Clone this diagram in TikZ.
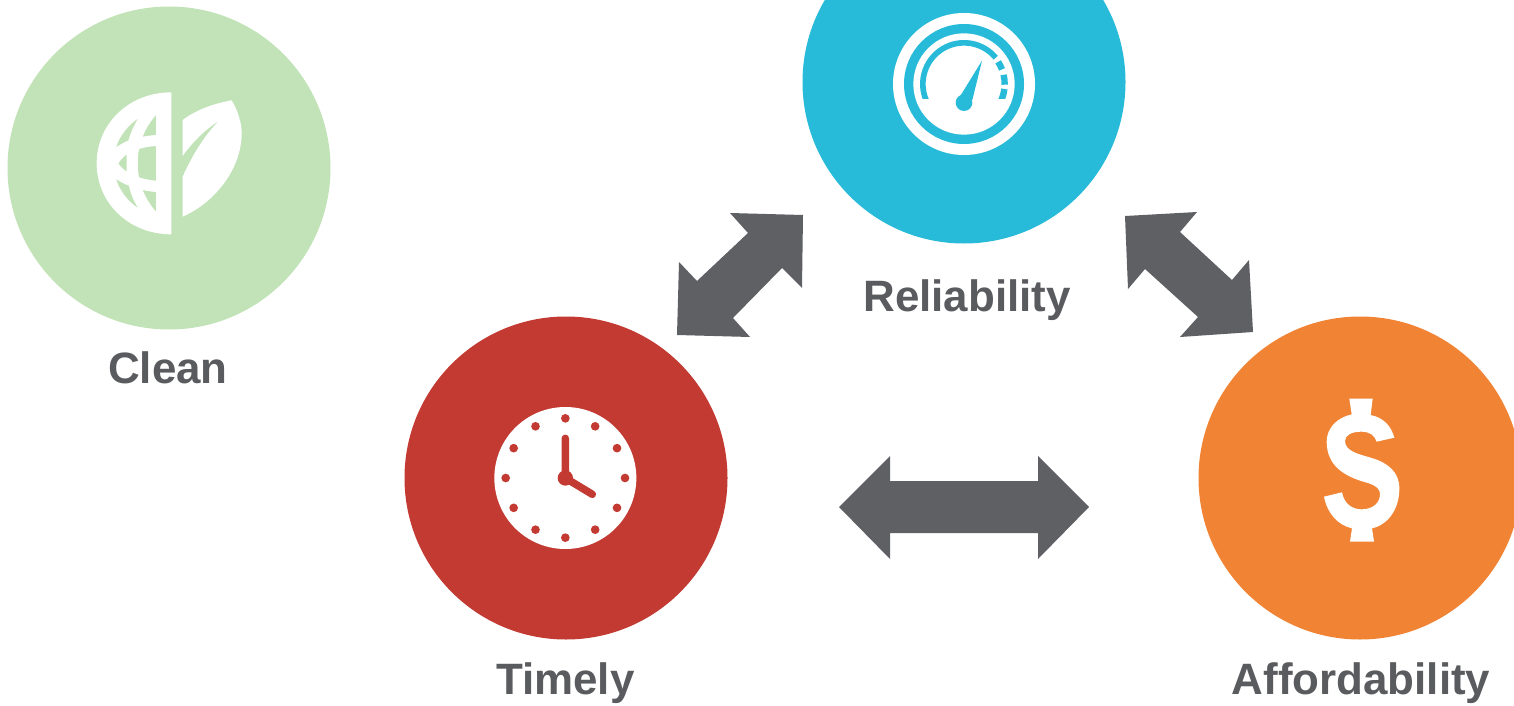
\documentclass[tikz,border=0pt]{standalone}
\usepackage{fontspec}
\setmainfont{Liberation Sans}
\definecolor{cgreen}{HTML}{C1E3B7}
\definecolor{ccyan}{HTML}{27BBD9}
\definecolor{cred}{HTML}{C23A32}
\definecolor{corange}{HTML}{F08434}
\definecolor{cgray}{HTML}{5F6064}
\definecolor{ctext}{HTML}{5A5B5E}
\tikzset{
  bigdisc/.style={circle,minimum size=323pt,inner sep=0pt,outer sep=0pt},
  lab/.style={anchor=base,text=ctext,font=\fontsize{43.9pt}{44pt}\selectfont\bfseries,inner sep=0pt},
  blockarrow/.style={fill=cgray,draw=none},
  icon/.style={shift={#1},x=0.33333pt,y=-0.33333pt},
  gaugearc/.style={ccyan,line width=5.67pt},
  gaugedash/.style={ccyan,line width=6.4pt},
  clockdot/.style={fill=cred}
}
\begin{document}
\begin{tikzpicture}[x=1pt,y=-1pt]
\clip (0,0) rectangle (1514,706);
\fill[white] (0,0) rectangle (1514,706);
% discs
\node[bigdisc,fill=cgreen] (clean) at (169,168) {};
\node[bigdisc,fill=ccyan] (reliability) at (964,82) {};
\node[bigdisc,fill=cred] (timely) at (566,478) {};
\node[bigdisc,fill=corange] (afford) at (1360,478) {};
% labels
\node[lab] (lclean) at (168,383) {Clean};
\node[lab] (lrel) at (967,311.5) {Reliability};
\node[lab] (ltime) at (565.3,694.5) {Timely};
\node[lab] (laff) at (1361,694.5) {Affordability};
% block arrows
\fill[blockarrow] (730,213)--(803,215)--(802,288)--(782,268)--(733,318)--(750,337)--(677,335)--(679,262)--(697,281)--(748,233)--cycle;
\fill[blockarrow] (1125,216)--(1197,212)--(1180,232)--(1232,280)--(1249,260)--(1253,332)--(1180,337)--(1198,317)--(1145,269)--(1128,289)--cycle;
\fill[blockarrow] (839,507)--(890,456)--(890,481)--(1038,481)--(1038,456)--(1089,507)--(1038,559)--(1038,533)--(890,533)--(890,559)--cycle;
% globe and leaf
\begin{scope}[icon={(70pt,-70pt)}]
\fill[white,even odd rule]
  (304,67) .. controls (176,67) and (80,162) .. (80,280)
  .. controls (80,398) and (176,493) .. (304,493) -- cycle
  (138,232) .. controls (150,195) and (175,165) .. (205,145) .. controls (192,165) and (182,188) .. (175,212) .. controls (162,217) and (150,224) .. (138,232) -- cycle
  (258,135) -- (258,195) .. controls (245,196) and (232,198) .. (218,200) .. controls (228,175) and (242,153) .. (258,135) -- cycle
  (170,253) -- (170,305) .. controls (160,298) and (151,290) .. (145,280) .. controls (151,270) and (160,261) .. (170,253) -- cycle
  (258,228) -- (258,332) .. controls (240,331) and (223,327) .. (207,322) .. controls (202,295) and (202,265) .. (207,237) .. controls (223,232) and (240,229) .. (258,228) -- cycle
  (138,327) .. controls (150,335) and (163,342) .. (177,347) .. controls (182,372) and (192,395) .. (205,415) .. controls (175,395) and (150,365) .. (138,327) -- cycle
  (218,360) .. controls (232,363) and (245,365) .. (258,366) -- (258,425) .. controls (242,407) and (228,385) .. (218,360) -- cycle;
\fill[white] (338,150) .. controls (380,118) and (435,100) .. (485,91)
  .. controls (505,125) and (515,160) .. (515,190)
  .. controls (515,300) and (430,400) .. (338,440) -- (338,320)
  .. controls (365,260) and (400,200) .. (447,152)
  .. controls (405,180) and (368,215) .. (338,258) -- cycle;
\end{scope}
% gauge
\begin{scope}[icon={(870pt,0pt)}]
\fill[white] (282,252) circle[radius=213];
\fill[ccyan] (282,252) circle[radius=180];
\fill[white] (282,252) circle[radius=152];
\begin{scope}
\clip (100,60) rectangle (450,296);
\draw[gaugearc] (282,252) ++(-205:123.5) arc[start angle=205,end angle=39.6,radius=41.17pt];
\draw[gaugedash] (282,252) ++(-33:122) arc[start angle=33,end angle=21,radius=40.67pt];
\draw[gaugedash] (282,252) ++(-13:122) arc[start angle=13,end angle=-1,radius=40.67pt];
\draw[gaugedash] (282,252) ++(7:122) arc[start angle=-7,end angle=-25,radius=40.67pt];
\end{scope}
\fill[ccyan] (282,308) circle[radius=25];
\fill[ccyan] (336,182) -- (272,286) -- (307,300) -- cycle;
\end{scope}
% clock
\begin{scope}[icon={(480pt,-395pt)}]
\fill[white] (256,249) circle[radius=213];
\foreach \a in {0,30,...,330}
  \fill[clockdot] (256,249) ++(\a:179) circle[radius=13];
\fill[cred] (256,249) circle[radius=23];
\draw[cred,line width=7.5pt,line cap=round] (256,130) -- (256,249) -- (337,298);
\end{scope}
% dollar
\begin{scope}[icon={(1300pt,-385pt)}]
\fill[white] (148,41) -- (218,41) -- (212,90)
  .. controls (250,98) and (273,122) .. (283,158)
  -- (230,170)
  .. controls (224,150) and (207,140) .. (185,140)
  .. controls (155,140) and (135,150) .. (135,168)
  .. controls (135,200) and (180,208) .. (215,219)
  .. controls (265,234) and (298,262) .. (298,310)
  .. controls (298,375) and (262,420) .. (216,430)
  -- (222,470) -- (150,470) -- (156,430)
  .. controls (112,420) and (82,385) .. (72,335)
  -- (126,322)
  .. controls (132,355) and (155,373) .. (185,373)
  .. controls (220,373) and (240,352) .. (240,328)
  .. controls (240,305) and (215,297) .. (190,290)
  .. controls (130,272) and (80,240) .. (80,170)
  .. controls (80,130) and (110,98) .. (155,88) -- cycle;
\end{scope}
\end{tikzpicture}
\end{document}
